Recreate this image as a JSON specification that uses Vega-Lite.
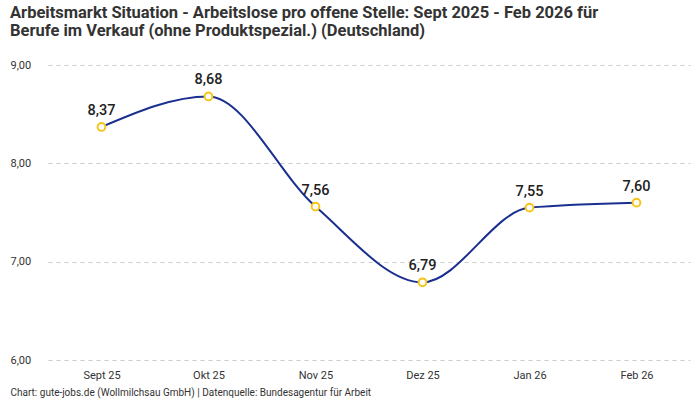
{
  "$schema": "https://vega.github.io/schema/vega-lite/v6.json",
  "autosize": {"type": "fit", "contains": "padding"},
  "width": 700,
  "height": 400,
  "padding": {"left": 10, "top": 4, "right": 10, "bottom": 3},
  "background": "#ffffff",
  "title": {
    "text": ["Arbeitsmarkt Situation - Arbeitslose pro offene Stelle: Sept 2025 - Feb 2026 für", "Berufe im Verkauf (ohne Produktspezial.) (Deutschland)"],
    "anchor": "start",
    "frame": "bounds",
    "offset": 20,
    "font": "Roboto",
    "fontSize": 16.5,
    "fontWeight": "bold",
    "lineHeight": 18,
    "color": "#333333"
  },
  "data": {
    "values": [
      {"monat": "Sept 25", "wert": 8.37},
      {"monat": "Okt 25", "wert": 8.68},
      {"monat": "Nov 25", "wert": 7.56},
      {"monat": "Dez 25", "wert": 6.79},
      {"monat": "Jan 26", "wert": 7.55},
      {"monat": "Feb 26", "wert": 7.60}
    ]
  },
  "encoding": {
    "x": {
      "field": "monat",
      "type": "ordinal",
      "sort": null,
      "scale": {"type": "point", "padding": 0.5},
      "axis": {
        "title": "Chart: gute-jobs.de (Wollmilchsau GmbH) | Datenquelle: Bundesagentur für Arbeit",
        "titleAnchor": "start",
        "titleAlign": "left",
        "titleX": -38,
        "titleFont": "Roboto",
        "titleFontSize": 10,
        "titleFontWeight": "normal",
        "titleColor": "#333333",
        "titlePadding": 7,
        "labelAngle": 0,
        "labelFont": "Roboto",
        "labelFontSize": 11,
        "labelColor": "#333333",
        "labelPadding": 9,
        "domain": false,
        "ticks": false,
        "grid": false
      }
    },
    "y": {
      "field": "wert",
      "type": "quantitative",
      "scale": {"domain": [6, 9]},
      "axis": {
        "title": null,
        "values": [6, 7, 8, 9],
        "labelExpr": "replace(format(datum.value, '.2f'), '.', ',')",
        "labelFont": "Roboto",
        "labelFontSize": 11,
        "labelColor": "#333333",
        "labelAlign": "left",
        "labelPadding": 38,
        "labelBaseline": "middle",
        "domain": false,
        "ticks": false,
        "grid": true,
        "gridColor": "#cccccc",
        "gridDash": [4, 4]
      }
    }
  },
  "layer": [
    {
      "mark": {"type": "line", "interpolate": "monotone", "color": "#1a2f8f", "strokeWidth": 2}
    },
    {
      "mark": {"type": "point", "shape": "circle", "filled": true, "fill": "#ffffff", "stroke": "#f5c518", "strokeWidth": 2, "size": 60, "opacity": 1}
    },
    {
      "transform": [
        {"calculate": "replace(format(datum.wert, '.2f'), '.', ',')", "as": "label"}
      ],
      "mark": {"type": "text", "dy": -16, "font": "Roboto", "fontSize": 14.5, "fontWeight": 500, "color": "#222222"},
      "encoding": {"text": {"field": "label"}}
    }
  ],
  "config": {"view": {"stroke": null}}
}
